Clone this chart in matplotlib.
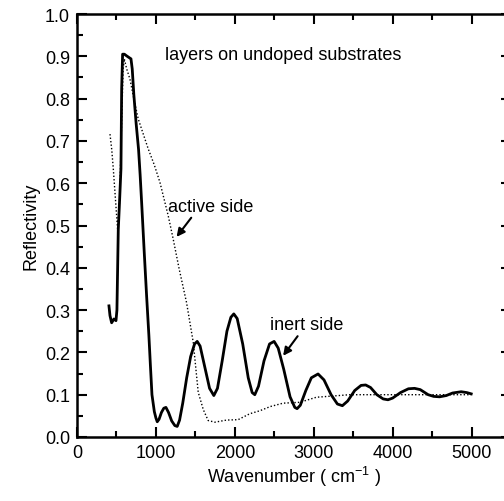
import matplotlib
matplotlib.use("Agg")
import matplotlib.pyplot as plt
from matplotlib.ticker import MultipleLocator

plt.rcParams['font.family'] = ['Liberation Sans', 'DejaVu Sans']

# inert side (solid, thick)
inert_x = [405, 418, 439, 468, 494, 506, 515, 523, 540, 557, 566, 578, 600, 629, 660, 684,
           700, 720, 750, 780, 800, 819, 852, 882, 911, 930, 950, 980, 1000, 1017, 1040,
           1070, 1100, 1127, 1160, 1200, 1240, 1270, 1300, 1340, 1390, 1440, 1490, 1523,
           1560, 1620, 1680, 1734, 1780, 1840, 1900, 1950, 1987, 2030, 2100, 2170, 2220,
           2253, 2300, 2370, 2440, 2498, 2550, 2620, 2700, 2760, 2789, 2830, 2900, 2970,
           3055, 3130, 3220, 3300, 3363, 3430, 3520, 3600, 3658, 3720, 3800, 3880, 3941,
           4000, 4100, 4200, 4278, 4350, 4450, 4520, 4595, 4680, 4760, 4869, 4940, 4996]
inert_y = [0.31, 0.287, 0.27, 0.279, 0.275, 0.30, 0.40, 0.49, 0.56, 0.634, 0.823, 0.905,
           0.905, 0.901, 0.897, 0.894, 0.87, 0.81, 0.74, 0.68, 0.62, 0.555, 0.437,
           0.334, 0.24, 0.17, 0.10, 0.06, 0.045, 0.036, 0.042, 0.058, 0.068, 0.07, 0.058,
           0.038, 0.027, 0.025, 0.04, 0.08, 0.14, 0.19, 0.22, 0.226, 0.215, 0.165, 0.115,
           0.098, 0.115, 0.18, 0.25, 0.283, 0.291, 0.28, 0.22, 0.14, 0.105, 0.10, 0.12,
           0.18, 0.22, 0.226, 0.21, 0.16, 0.095, 0.07, 0.067, 0.075, 0.11, 0.14, 0.149,
           0.135, 0.10, 0.078, 0.074, 0.085, 0.11, 0.122, 0.123, 0.117, 0.10, 0.09, 0.088,
           0.092, 0.105, 0.114, 0.115, 0.112, 0.10, 0.096, 0.095, 0.098, 0.104, 0.107,
           0.105, 0.102]

# active side (dotted, thin)
active_x = [418, 440, 460, 490, 515, 540, 566, 585, 599, 630, 671, 720, 776, 840, 903,
            980, 1051, 1156, 1219, 1295, 1388, 1473, 1536, 1600, 1662, 1747, 1895, 2042,
            2190, 2316, 2450, 2612, 2823, 3034, 3250, 3456, 3800, 4089, 4500, 4996]
active_y = [0.716, 0.68, 0.634, 0.555, 0.49, 0.56, 0.75, 0.87, 0.894, 0.87, 0.846, 0.80,
            0.752, 0.716, 0.681, 0.643, 0.602, 0.523, 0.468, 0.397, 0.318, 0.224, 0.106,
            0.065, 0.039, 0.035, 0.04, 0.041, 0.055, 0.062, 0.072, 0.08, 0.082, 0.094,
            0.097, 0.10, 0.10, 0.10, 0.10, 0.10]

fig = plt.figure(figsize=(5.04, 5.02), dpi=100)
ax = fig.add_axes([77/504, 64/502, (511-77)/504, 423/502])

ax.plot(inert_x, inert_y, color='black', lw=2.0, solid_joinstyle='round')
ax.plot(active_x, active_y, color='black', lw=1.0, linestyle=(0, (1, 1.5)))

ax.set_xlim(0, 5500)
ax.set_ylim(0, 1.0)
ax.xaxis.set_minor_locator(MultipleLocator(500))
ax.yaxis.set_minor_locator(MultipleLocator(0.05))
ax.set_xticks([0, 1000, 2000, 3000, 4000, 5000])
ax.set_xticklabels(['0', '1000', '2000', '3000', '4000', '5000'])
ax.set_yticks([i/10 for i in range(11)])
ax.set_yticklabels([f'{i/10:.1f}' for i in range(11)])

ax.tick_params(which='both', direction='in', top=True, right=True, labelsize=13, width=1.5)
ax.tick_params(which='major', length=7, pad=5)
ax.tick_params(which='minor', length=4)
for s in ax.spines.values():
    s.set_linewidth(1.8)

ax.set_xlabel('Wavenumber ( cm$^{\\mathregular{-1}}$ )', fontsize=13, labelpad=2)
ax.set_ylabel('Reflectivity', fontsize=13, labelpad=4)

ax.text(1120, 0.905, 'layers on undoped substrates', fontsize=13, va='center', ha='left')
ax.annotate('active side', xy=(1262, 0.473), xytext=(1150, 0.545), fontsize=13,
            va='center', ha='left',
            arrowprops=dict(arrowstyle='-|>', color='black', lw=1.5, shrinkA=0, shrinkB=0,
                            mutation_scale=12, relpos=(0.3, 0.0)))
ax.annotate('inert side', xy=(2612, 0.192), xytext=(2450, 0.265), fontsize=13,
            va='center', ha='left',
            arrowprops=dict(arrowstyle='-|>', color='black', lw=1.5, shrinkA=0, shrinkB=0,
                            mutation_scale=12, relpos=(0.4, 0.0)))

fig.savefig('out.png', dpi=100)
